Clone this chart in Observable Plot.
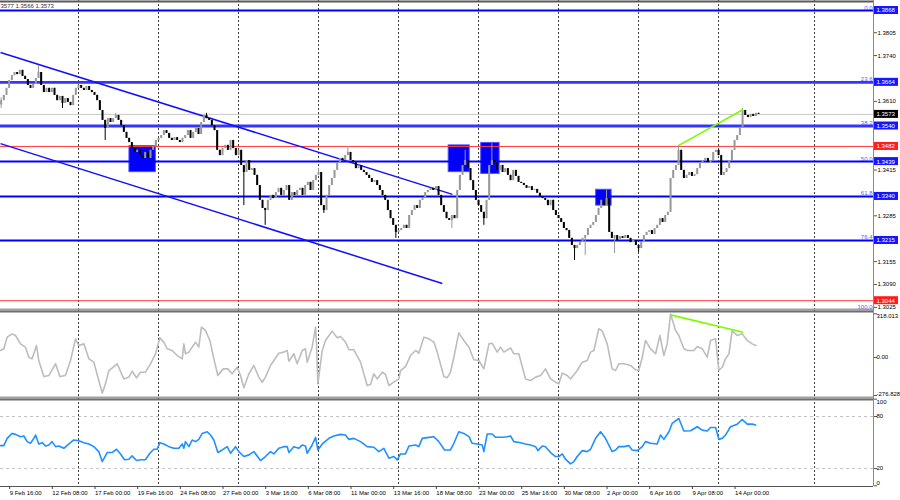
<!DOCTYPE html>
<html><head><meta charset="utf-8">
<script src="https://cdn.jsdelivr.net/npm/d3@7"></script>
<script src="https://cdn.jsdelivr.net/npm/@observablehq/plot@0.6"></script>
<style>
html,body{margin:0;padding:0;background:#fff;}
#chart{position:relative;width:900px;height:500px;overflow:hidden;background:#fff;}
#chart svg{display:block;}
</style></head><body><div id="chart"></div>
<script>
// ---------- DATA ----------
const header = "3577 1.3566 1.3573";
const firstOpen = 1.3600;
// H4 closes, one per bar (bar 3 = 9 Feb 16:00)
const closes = [
1.3612,1.3627,1.3647,1.3669,1.3683,1.3692,1.3686,1.3698,1.3681,1.3672,1.3655,1.3647,1.3658,1.3675,1.3692,
1.3655,1.3635,1.3647,1.3635,1.3647,1.3627,1.3612,1.3624,1.3604,1.3618,1.3607,1.3598,1.3627,1.3647,1.3655,
1.3647,1.3641,1.3652,1.3641,1.3635,1.3627,1.3612,1.3584,1.3556,1.3533,1.3561,1.3550,1.3561,1.3570,1.3556,
1.3541,1.3522,1.3505,1.3493,1.3476,1.3465,1.3471,1.3456,1.3448,1.3465,1.3448,1.3471,1.3482,1.3499,1.3505,
1.3513,1.3527,1.3519,1.3505,1.3499,1.3507,1.3499,1.3493,1.3505,1.3513,1.3527,1.3505,1.3522,1.3533,1.3516,
1.3550,1.3570,1.3561,1.3556,1.3541,1.3527,1.3471,1.3456,1.3476,1.3485,1.3471,1.3499,1.3476,1.3456,1.3471,
1.3428,1.3408,1.3442,1.3414,1.3419,1.3400,1.3371,1.3329,1.3306,1.3300,1.3329,1.3343,1.3334,1.3351,1.3363,
1.3343,1.3357,1.3371,1.3329,1.3351,1.3343,1.3357,1.3363,1.3343,1.3371,1.3380,1.3357,1.3385,1.3400,1.3408,
1.3314,1.3300,1.3343,1.3371,1.3391,1.3414,1.3436,1.3448,1.3442,1.3456,1.3465,1.3442,1.3436,1.3419,1.3428,
1.3414,1.3408,1.3400,1.3391,1.3380,1.3385,1.3371,1.3357,1.3343,1.3329,1.3300,1.3277,1.3258,1.3238,1.3243,
1.3249,1.3258,1.3249,1.3286,1.3300,1.3314,1.3306,1.3329,1.3334,1.3351,1.3357,1.3363,1.3357,1.3368,1.3343,
1.3314,1.3295,1.3277,1.3272,1.3286,1.3277,1.3357,1.3400,1.3428,1.3442,1.3419,1.3385,1.3357,1.3329,1.3314,
1.3295,1.3277,1.3329,1.3428,1.3442,1.3436,1.3414,1.3428,1.3408,1.3419,1.3400,1.3385,1.3414,1.3397,1.3380,
1.3377,1.3371,1.3363,1.3368,1.3357,1.3360,1.3349,1.3340,1.3334,1.3329,1.3314,1.3329,1.3300,1.3286,1.3277,
1.3266,1.3249,1.3243,1.3221,1.3201,1.3192,1.3201,1.3209,1.3221,1.3229,1.3249,1.3258,1.3266,1.3286,1.3306,
1.3329,1.3314,1.3334,1.3238,1.3221,1.3229,1.3215,1.3226,1.3221,1.3229,1.3221,1.3209,1.3215,1.3201,1.3192,
1.3209,1.3229,1.3238,1.3243,1.3232,1.3249,1.3258,1.3277,1.3266,1.3286,1.3295,1.3391,1.3414,1.3428,1.3471,
1.3414,1.3391,1.3400,1.3408,1.3397,1.3402,1.3419,1.3436,1.3442,1.3448,1.3436,1.3442,1.3465,1.3471,1.3456,
1.3400,1.3408,1.3419,1.3442,1.3471,1.3499,1.3513,1.3533,1.3584,1.3570,1.3564,1.3573,1.3567,1.3576,1.3573
];
// long wicks: [bar, high, low]
const spikes = [
[0,1.3620,1.3590],[14,1.3712,null],[23,null,1.3590],[39,null,1.3499],[43,1.3576,null],[77,1.3576,null],
[91,null,1.3314],[99,null,1.3258],[119,1.3419,null],[121,null,1.3292],[130,1.3482,null],[148,null,1.3221],
[169,null,1.3249],[174,1.3471,null],[181,null,1.3258],[184,1.3490,null],[215,null,1.3158],[219,null,1.3172],
[227,1.3357,null],[230,null,1.3178],[239,null,1.3181],[254,1.3485,null],[278,1.3590,null]
];
const tickBars = [3,19,35,51,67,83,99,115,131,147,163,179,195,211,227,243,259,275];
const tickLabels = ["9 Feb 16:00","12 Feb 08:00","17 Feb 00:00","19 Feb 16:00","24 Feb 08:00","27 Feb 00:00",
 "3 Mar 16:00","6 Mar 08:00","11 Mar 00:00","13 Mar 16:00","18 Mar 08:00","23 Mar 00:00","25 Mar 16:00",
 "30 Mar 08:00","2 Apr 00:00","6 Apr 16:00","9 Apr 08:00","14 Apr 00:00"];
const weekGrid = [29,59,89,119,149,179,209,239,269,305];
const fibPrices = [1.3868,1.3664,1.3540,1.3439,1.3340,1.3215];
const fibLabels = ["0.0","23.6","38.2","50.0","61.8","76.4"];
const fib100Price = 1.3025, fib100Label = "100.0";
const redLevels = [1.3482,1.3044];
const lastPrice = 1.3573;
const priceTicks = [1.3025,1.3090,1.3155,1.3220,1.3285,1.3350,1.3415,1.3480,1.3545,1.3610,1.3675,1.3740,1.3805];
// blue zones
const zoneStart = [48.1,167.8,180,223.1];
const zoneEnd = [58.0,175.7,186.9,228.9];
const zoneTop = [1.3483,1.3485,1.3492,1.3359];
const zoneBottom = [1.3409,1.3409,1.3404,1.3314];
// descending channel
const chanBar1 = [-0.25,-0.25], chanPrice1 = [1.3749,1.3490];
const chanBar2 = [169.2,165.4], chanPrice2 = [1.3346,1.3093];
// divergence lines
const divBars = [254.1,278.2], divPrices = [1.3485,1.3587];
const divCciBars = [251,278.2], divCciValues = [310,184];
// CCI
const cciMax = 318.013, cciMin = -276.828;
const cciBars = [-0.25,1,2.25,4.1,5.4,7.25,9.1,10.4,11.6,13.25,14.1,16,17.9,20.4,22,24.1,26,27.9,29.1,31,
32.9,34.75,36.6,37.9,39.1,40.4,43.5,46,47.9,49.1,50.75,52.25,54.1,56,57.9,59.5,61,62.25,64.1,66,
67.9,68.5,69.1,70.4,71.6,72.9,74.1,75.1,76.6,78.25,79.75,81.25,83.25,85,86.6,88.5,89.75,91,92.9,94.75,
96.6,97.9,99.1,101,102.25,104.1,106,107.25,107.9,109.75,111,112.9,114.1,114.75,116.6,117.9,118.25,118.75,120.4,121.6,
124.1,126,127.25,129.1,130.4,132.25,134.75,137.25,138.5,139.75,141,142.9,144.1,145.4,147.25,149.1,149.75,151.6,153.5,155.4,
156.6,158.5,160.4,162.25,163.5,166,167.25,168.5,169.75,171.6,173.5,175.4,177.25,179.1,181,182.9,184.1,186,187.25,188.5,
191,192.25,194.1,196.6,198.5,200.4,202.25,204.1,206,207.9,209.1,210.4,212.25,213.5,216,217.9,219.75,221,222.25,224.1,
225.4,227.25,229.1,230.4,231.6,233.5,236,237.9,239.1,240.4,241.6,243.5,245.4,247,248.5,249.75,251,252.9,254.1,256,
257.25,259.75,261,262.9,264.75,266,267.9,269.1,270.4,271.6,272.9,274.1,276,277.9,279.75,281.6,283];
const cciValues = [51,63,148,172,160,99,75,2,-10,87,-22,-139,-131,-46,-139,-131,-22,136,87,99,
-10,-34,-168,-260,-192,-95,-46,-156,-143,-100,-148,-107,-107,-46,27,143,112,63,51,14,
-10,99,27,39,75,112,75,221,197,124,-10,-131,-83,-83,-119,-71,-131,-221,-119,-58,
-143,-180,-143,-58,-22,31,39,51,-27,27,-46,51,63,-34,75,221,99,-192,51,124,
192,143,153,112,56,56,-34,-204,-197,-119,-156,-107,-124,-204,-180,-156,-95,-66,14,51,
31,148,136,112,39,-139,-148,-107,2,179,124,75,-17,-22,-83,99,104,39,75,39,
70,27,27,-156,-168,-143,-131,-83,-156,-180,-192,-114,-131,-156,-95,-34,-22,39,51,209,
192,99,-83,-95,-46,-46,-58,-90,-95,2,124,63,27,160,14,99,316,196,160,63,
51,51,80,63,2,124,136,-93,-71,-10,27,196,160,172,124,99,87];
// RSI
const rsiLevels = [80,20];
const rsiBars = [-0.25,1,2.25,4.1,5.4,7.25,8.5,9.75,11,12.25,12.9,14.1,15.4,16.6,17.9,19.1,20.4,21.6,23.5,25.4,
27.25,29.1,31,32.9,34.75,36.6,37.9,39.75,41.6,43.25,44.75,46.25,47.9,49.1,50.75,52.25,54.1,55.75,57.25,58.5,
59.5,61,62.9,64.75,66.6,67.9,68.5,69.1,70.4,71.6,72.9,74.1,75.4,77.25,78.5,79.75,81.25,82.9,84.75,86,
87.9,89.1,91,92.9,94.75,97.25,99.1,101,102.25,104.1,106,107.25,107.9,109.75,111.6,112.9,114.1,114.75,116.6,117.9,
118.75,120.4,122.9,124.75,127.25,129.1,130.4,132.25,134.75,137.25,139.75,141.6,143.5,145.4,147.25,148.5,149.75,151.6,152.9,155.4,
156.6,157.9,160.4,162.25,164.1,166.25,168.5,169.75,171.6,173.5,175.4,176.6,178.5,180.4,181,182.25,184.1,185.4,187.9,189.75,
191,192.25,194.75,196.6,198.5,200.4,201.25,202.9,204.1,206,207.9,209.1,210.4,211.6,213.5,214.75,216,217.9,219.75,221,
222.9,224.75,226.6,229.1,230.4,231.6,233.5,235.4,236.6,238.5,240.4,241.6,243.5,246,247.25,248.5,250.4,251.6,254.1,256,
258.5,261,262.9,264.75,266,267.9,269.1,270.4,271.6,273.5,276,277.9,279.75,281.6,282.9];
const rsiValues = [46.4,46.4,54.8,60.5,59.4,56.7,57.5,51,49.1,54.8,58.6,48.3,49.8,46,47.1,51,45.2,46,43.3,48.3,
52.9,52.1,49.8,48.3,45.2,39.5,28,38.4,38.4,42.2,36.8,30,30.7,34.5,29.2,30,30,37.6,42.2,42.2,
49.8,48.3,45.2,43.3,43.3,48.3,43.3,51,45.2,52.9,51,53.6,60.5,62.4,58.6,52.9,38.4,41.4,45.2,37.6,
45.2,39.5,33.8,35.7,39.5,29.2,33.8,39.5,36.8,43.3,45.2,45.2,38.4,45.2,43.3,47.1,46,37.6,47.1,55.9,
41.4,48.3,54.8,57.5,59.4,58.6,53.6,54.8,51,45.2,44.5,39.5,43.3,31.9,33.8,30,36.8,36.8,46,47.1,
45.2,54.8,55.9,56.7,51,41.4,41.4,49.1,62.4,60.5,56.7,49.1,48.3,47.1,39.5,59.8,59.8,56,56,56.7,
57.5,51,49.8,48.3,47.1,45.2,40.6,46,45.2,38.4,33.8,33.8,36.8,30.7,25.4,28,33.8,40.6,39.5,42.2,
54.8,62.4,54.8,39.5,41.4,45.2,45.2,46.4,41.4,40.6,45.2,51,49.1,48.3,58.6,53.6,62.4,72,77.7,63.2,
63.6,68.2,64.3,63.2,67.4,67.4,53.6,54.8,58.6,68.2,71.2,76.6,71.2,71.2,70.1];

// ---------- BUILD ----------
const FONT = "'Liberation Sans', Arial, sans-serif";
const FS = 6;
const W = 900, AXW = 27;
const xDomain = [-0.25, 327.1];
const xMax = xDomain[1];
const mainY = [1.30162, 1.38964];
const cciY = [-298.67, 342.04];
const rsiY = [-0.81, 100.81];
const GRID = {stroke: "#3a3a3a", strokeDasharray: "2,2", strokeWidth: 1};
const baseStyle = {fontFamily: FONT, fontSize: FS + "px", background: "#fff", color: "#000", overflow: "visible"};

const bars = closes.map((c, b) => {
  const o = b === 0 ? firstOpen : closes[b - 1];
  return {b, open: o, close: c, high: Math.max(o, c), low: Math.min(o, c)};
});
for (const [b, h, l] of spikes) {
  if (h != null) bars[b].high = Math.max(bars[b].high, h);
  if (l != null) bars[b].low = Math.min(bars[b].low, l);
}
const candleColor = d => d.close >= d.open ? "#989898" : "#000000";
const zones = zoneStart.map((s, k) => ({x1: s, x2: zoneEnd[k], y1: zoneTop[k], y2: zoneBottom[k]}));
const channels = chanBar1.map((b, k) => ({x1: b, y1: chanPrice1[k], x2: chanBar2[k], y2: chanPrice2[k]}));
const div = [{x1: divBars[0], y1: divPrices[0], x2: divBars[1], y2: divPrices[1]}];
const divC = [{x1: divCciBars[0], y1: divCciValues[0], x2: divCciBars[1], y2: divCciValues[1]}];
const fibs = fibPrices.map((p, k) => ({p, label: fibLabels[k], thick: k === 1 || k === 2}));
const priceBoxes = [
  ...fibPrices.map(p => ({p, fill: "#1515ff"})),
  {p: lastPrice, fill: "#000000"},
  ...redLevels.map(p => ({p, fill: "#ff1e1e"}))
];
// a scale label that sits under a coloured price box is hidden by it
const tickText = d => priceBoxes.some(b => Math.abs(b.p - d) < 0.0016) ? "" : d.toFixed(4);
const cciPts = cciBars.map((b, k) => ({b, v: cciValues[k]}));
const rsiPts = rsiBars.map((b, k) => ({b, v: rsiValues[k]}));
const labelMap = new Map(tickBars.map((b, k) => [b, tickLabels[k]]));

const main = Plot.plot({
  width: W, height: 310, marginLeft: 0, marginRight: AXW, marginTop: 0, marginBottom: 0,
  style: baseStyle,
  x: {domain: xDomain, axis: null},
  y: {domain: mainY},
  color: {type: "identity"},
  marks: [
    Plot.ruleX(weekGrid, GRID),
    Plot.rect(zones, {x1: "x1", x2: "x2", y1: "y1", y2: "y2", fill: "#0000ff", stroke: "#5050ff"}),
    Plot.ruleY([lastPrice], {stroke: "#c8c8c8"}),
    Plot.ruleY(redLevels, {stroke: "#ff3a3a"}),
    Plot.ruleY(fibs.filter(d => !d.thick), {y: "p", stroke: "#0000ff", strokeWidth: 2}),
    Plot.ruleY(fibs.filter(d => d.thick), {y: "p", stroke: "#3535ff", strokeWidth: 2.8}),
    Plot.link(channels, {x1: "x1", y1: "y1", x2: "x2", y2: "y2", stroke: "#1010ff", strokeWidth: 1.5}),
    Plot.ruleX(bars, {x: "b", y1: "low", y2: "high", stroke: candleColor, strokeWidth: 1}),
    Plot.ruleX(bars, {x: "b", y1: "open", y2: "close", stroke: candleColor, strokeWidth: 2}),
    Plot.link(div, {x1: "x1", y1: "y1", x2: "x2", y2: "y2", stroke: "#7cfc00", strokeWidth: 1.6}),
    Plot.text(fibs, {x: () => xMax, y: "p", text: "label", textAnchor: "end", lineAnchor: "bottom", dx: -1, dy: -1, fill: "#5a5aff", fontSize: FS}),
    Plot.text([fib100Label], {x: () => xMax, y: () => fib100Price, text: d => d, textAnchor: "end", dx: -1, fill: "#5a5aff", fontSize: FS}),
    Plot.ruleX([xMax], {stroke: "#8a8a8a"}),
    Plot.axisY(priceTicks, {anchor: "right", tickSize: 3, tickPadding: 1, tickFormat: tickText, fontSize: FS, stroke: "#555", color: "#000", label: null}),
    Plot.rect(priceBoxes, {x1: () => xMax, x2: () => xMax, y1: "p", y2: "p", insetLeft: 1, insetRight: -25, insetTop: -4, insetBottom: -4, fill: "fill"}),
    Plot.text(priceBoxes, {x: () => xMax, y: "p", text: d => d.p.toFixed(4), textAnchor: "start", dx: 3, fill: "#ffffff", fontSize: FS}),
    Plot.text([header], {frameAnchor: "top-left", text: d => d, textAnchor: "start", lineAnchor: "middle", dy: 6, fill: "#333", fontSize: FS}),
    Plot.ruleY([mainY[1]], {stroke: "#5a5a5a", strokeWidth: 2, dy: 1}),
    Plot.ruleY([mainY[0]], {stroke: "#a0a0a0", strokeWidth: 2, dy: -1})
  ]
});

const cci = Plot.plot({
  width: W, height: 88, marginLeft: 0, marginRight: AXW, marginTop: 0, marginBottom: 0,
  style: baseStyle,
  x: {domain: xDomain, axis: null},
  y: {domain: cciY},
  marks: [
    Plot.ruleX(weekGrid, GRID),
    Plot.line(cciPts, {x: "b", y: "v", stroke: "#bdbdbd", strokeWidth: 1.6}),
    Plot.link(divC, {x1: "x1", y1: "y1", x2: "x2", y2: "y2", stroke: "#7cfc00", strokeWidth: 1.6}),
    Plot.ruleX([xMax], {stroke: "#8a8a8a"}),
    Plot.axisY([cciMax, 0, cciMin], {anchor: "right", tickSize: 3, tickFormat: () => "", stroke: "#555", label: null}),
    Plot.text([cciMax], {x: () => xMax, y: d => d, text: d => d.toFixed(3), textAnchor: "start", lineAnchor: "top", dx: 3, fontSize: FS, fill: "#000"}),
    Plot.text([0], {x: () => xMax, y: d => d, text: d => d.toFixed(2), textAnchor: "start", dx: 3, fontSize: FS, fill: "#000"}),
    Plot.text([cciMin], {x: () => xMax, y: d => d, text: d => d.toFixed(3), textAnchor: "start", lineAnchor: "bottom", dx: 3, fontSize: FS, fill: "#000"}),
    Plot.ruleY([cciY[1]], {stroke: "#6e6e6e", strokeWidth: 2, dy: 1}),
    Plot.ruleY([cciY[0]], {stroke: "#a0a0a0", strokeWidth: 2, dy: -1})
  ]
});

const rsi = Plot.plot({
  width: W, height: 102, marginLeft: 0, marginRight: AXW, marginTop: 0, marginBottom: 14,
  style: baseStyle,
  x: {domain: xDomain},
  y: {domain: rsiY},
  marks: [
    Plot.ruleX(weekGrid, GRID),
    Plot.ruleY(rsiLevels, {stroke: "#c4c4c4", strokeDasharray: "3,3"}),
    Plot.line(rsiPts, {x: "b", y: "v", stroke: "#1e90ff", strokeWidth: 1.6}),
    Plot.ruleX([xMax], {stroke: "#8a8a8a"}),
    Plot.axisY([100, 80, 20, 0], {anchor: "right", tickSize: 3, tickFormat: () => "", stroke: "#555", label: null}),
    Plot.text([100], {x: () => xMax, y: d => d, text: d => String(d), textAnchor: "start", lineAnchor: "top", dx: 3, dy: 1, fontSize: FS, fill: "#000"}),
    Plot.text(rsiLevels, {x: () => xMax, y: d => d, text: d => String(d), textAnchor: "start", dx: 3, fontSize: FS, fill: "#000"}),
    Plot.text([0], {x: () => xMax, y: d => d, text: d => String(d), textAnchor: "start", lineAnchor: "bottom", dx: 3, dy: -1, fontSize: FS, fill: "#000"}),
    Plot.ruleY([rsiY[1]], {stroke: "#6e6e6e", strokeWidth: 2, dy: 1}),
    Plot.ruleY([rsiY[0]], {stroke: "#555", strokeWidth: 1}),
    Plot.axisX(tickBars, {anchor: "bottom", tickSize: 3, tickPadding: 1, tickFormat: d => labelMap.get(d), textAnchor: "start", dx: 0.5, fontSize: FS, stroke: "#444", color: "#000", label: null})
  ]
});

const host = document.getElementById("chart");
host.appendChild(main);
host.appendChild(cci);
host.appendChild(rsi);
</script></body></html>
